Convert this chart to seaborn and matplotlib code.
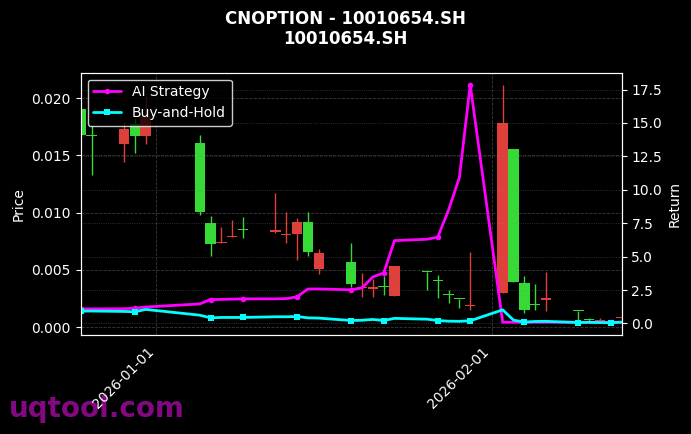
import numpy as np
import pandas as pd
import matplotlib
matplotlib.use("Agg")
import matplotlib.pyplot as plt
import matplotlib.dates as mdates
import seaborn as sns

dates = pd.to_datetime([
    "2025-12-25", "2025-12-26", "2025-12-29", "2025-12-30", "2025-12-31",
    "2026-01-05", "2026-01-06", "2026-01-07", "2026-01-08", "2026-01-09",
    "2026-01-12", "2026-01-13", "2026-01-14", "2026-01-15", "2026-01-16",
    "2026-01-19", "2026-01-20", "2026-01-21", "2026-01-22", "2026-01-23",
    "2026-01-26", "2026-01-27", "2026-01-28", "2026-01-29", "2026-01-30",
    "2026-02-02", "2026-02-03", "2026-02-04", "2026-02-05", "2026-02-06",
    "2026-02-09", "2026-02-10", "2026-02-11", "2026-02-12", "2026-02-13",
])

open_ = [0.0191, 0.01675, 0.0160, 0.01777, 0.0167,
         0.01612, 0.00908, 0.00732, 0.00789, 0.00849,
         0.00833, 0.00804, 0.00812, 0.00917, 0.0051,
         0.00571, 0.00341, 0.00335, 0.00353, 0.0027,
         0.00483, 0.00408, 0.0028, 0.00248, 0.00181,
         0.00299, 0.01554, 0.00389, 0.00197, 0.00239,
         0.00144, 0.00062, 0.00048, 0.00045, 0.0008]
high = [0.0192, 0.01763, 0.0179, 0.0183, 0.0202,
        0.01676, 0.00971, 0.00878, 0.00934, 0.00965,
        0.01169, 0.01003, 0.00951, 0.01003, 0.00682,
        0.00734, 0.00473, 0.00423, 0.00443, 0.00537,
        0.00483, 0.00458, 0.00322, 0.00248, 0.00652,
        0.02119, 0.01554, 0.0045, 0.00377, 0.00484,
        0.00144, 0.00078, 0.00076, 0.00055, 0.00084]
low = [0.0167, 0.01328, 0.0144, 0.01522, 0.0160,
       0.0098, 0.00617, 0.00731, 0.00788, 0.00777,
       0.00821, 0.00734, 0.00583, 0.00617, 0.00461,
       0.00351, 0.00264, 0.00264, 0.00278, 0.0027,
       0.00328, 0.00256, 0.00212, 0.00169, 0.00148,
       0.00299, 0.0039, 0.00119, 0.00148, 0.00143,
       0.00043, 0.00043, 0.00041, 0.00037, 0.0007]
close = [0.01676, 0.01671, 0.01728, 0.0167, 0.01835,
         0.01003, 0.00728, 0.00736, 0.00793, 0.00845,
         0.00837, 0.00808, 0.00917, 0.00652, 0.00647,
         0.0038, 0.00345, 0.00339, 0.00349, 0.00537,
         0.00481, 0.00404, 0.00276, 0.00246, 0.00185,
         0.01786, 0.00397, 0.00148, 0.00193, 0.00243,
         0.00142, 0.0006, 0.00052, 0.00047, 0.00082]

ai_return = [1.09, 1.09, 1.10, 1.14, 1.23,
             1.46, 1.79, 1.80, 1.82, 1.84,
             1.84, 1.86, 1.99, 2.58, 2.58,
             2.52, 2.66, 3.48, 3.77, 6.20,
             6.30, 6.46, 8.49, 10.92, 17.87,
             0.09, 0.09, 0.09, 0.09, 0.09,
             0.09, 0.09, 0.09, 0.09, 0.09]
bh_return = [0.92, 0.93, 0.90, 0.87, 1.05,
             0.62, 0.42, 0.45, 0.45, 0.45,
             0.50, 0.50, 0.52, 0.42, 0.40,
             0.22, 0.24, 0.30, 0.22, 0.38,
             0.32, 0.22, 0.17, 0.16, 0.20,
             1.02, 0.25, 0.10, 0.15, 0.16,
             0.07, 0.08, 0.07, 0.05, 0.10]

title = "CNOPTION - 10010654.SH\n10010654.SH"

plt.style.use("dark_background")
sns.set_style("dark", {"axes.facecolor": "black", "figure.facecolor": "black"})
plt.rcParams["font.family"] = ["DejaVu Sans"]
plt.rcParams["text.color"] = "white"
plt.rcParams["axes.labelcolor"] = "white"
plt.rcParams["xtick.color"] = "white"
plt.rcParams["ytick.color"] = "white"

fig = plt.figure(figsize=(6.91, 4.34), dpi=100, facecolor="black")
ax = fig.add_axes([0.1168, 0.2288, 0.7829, 0.6037])
ax.set_facecolor("black")

up_color = "#e0403b"
down_color = "#36d936"
o = np.array(open_); c = np.array(close); h = np.array(high); l = np.array(low)
colors = [up_color if ci > oi else down_color for oi, ci in zip(o, c)]
body_bottom = np.minimum(o, c)
body_h = np.maximum(np.abs(c - o), 0.00011)
ax.vlines(dates, l, h, colors=colors, linewidth=1.0, zorder=2)
ax.bar(dates, body_h, bottom=body_bottom, width=0.96, color=colors,
       linewidth=0, zorder=3)

ax.set_xlim(dates[0], dates[-1])
ax.set_ylabel("Price", fontsize=10)
ax.grid(True, linestyle="--", linewidth=0.6, color="gray", alpha=0.45)
ax.xaxis.set_major_locator(mdates.MonthLocator())
ax.xaxis.set_major_formatter(mdates.DateFormatter("%Y-%m-%d"))
plt.setp(ax.get_xticklabels(), rotation=45, ha="right", fontsize=10)
ax.tick_params(axis="both", labelsize=10, colors="white", length=3.5)
for s in ax.spines.values():
    s.set_color("white")

ax2 = ax.twinx()
df = pd.DataFrame({"date": dates, "ai": ai_return, "bh": bh_return})
sns.lineplot(data=df, x="date", y="ai", ax=ax2, color="#ff00ff", linewidth=2,
             marker="o", markersize=4, markevery=3, markeredgewidth=0,
             label="AI Strategy")
sns.lineplot(data=df, x="date", y="bh", ax=ax2, color="#00ffff", linewidth=2,
             marker="s", markersize=4, markevery=3, markeredgewidth=0,
             label="Buy-and-Hold")
ax2.set_xlim(dates[0], dates[-1])
ax2.set_ylabel("Return", fontsize=10)
ax2.set_xlabel("")
ax2.grid(True, linestyle=":", linewidth=0.6, color="gray", alpha=0.45)
ax2.tick_params(axis="y", labelsize=10, colors="white", length=3.5)
for s in ax2.spines.values():
    s.set_color("white")
leg = ax2.legend(loc="upper left", fontsize=10, facecolor="black",
                 edgecolor="white", framealpha=0.8)
for t in leg.get_texts():
    t.set_color("white")

fig.suptitle(title, fontsize=12, fontweight="bold", color="white", y=0.978)
fig.text(0.013, 0.04, "uqtool.com", fontsize=20, fontweight="bold",
         color="#8b0a8b", alpha=0.95, zorder=-5)

fig.savefig("out.png", dpi=100, facecolor="black")
